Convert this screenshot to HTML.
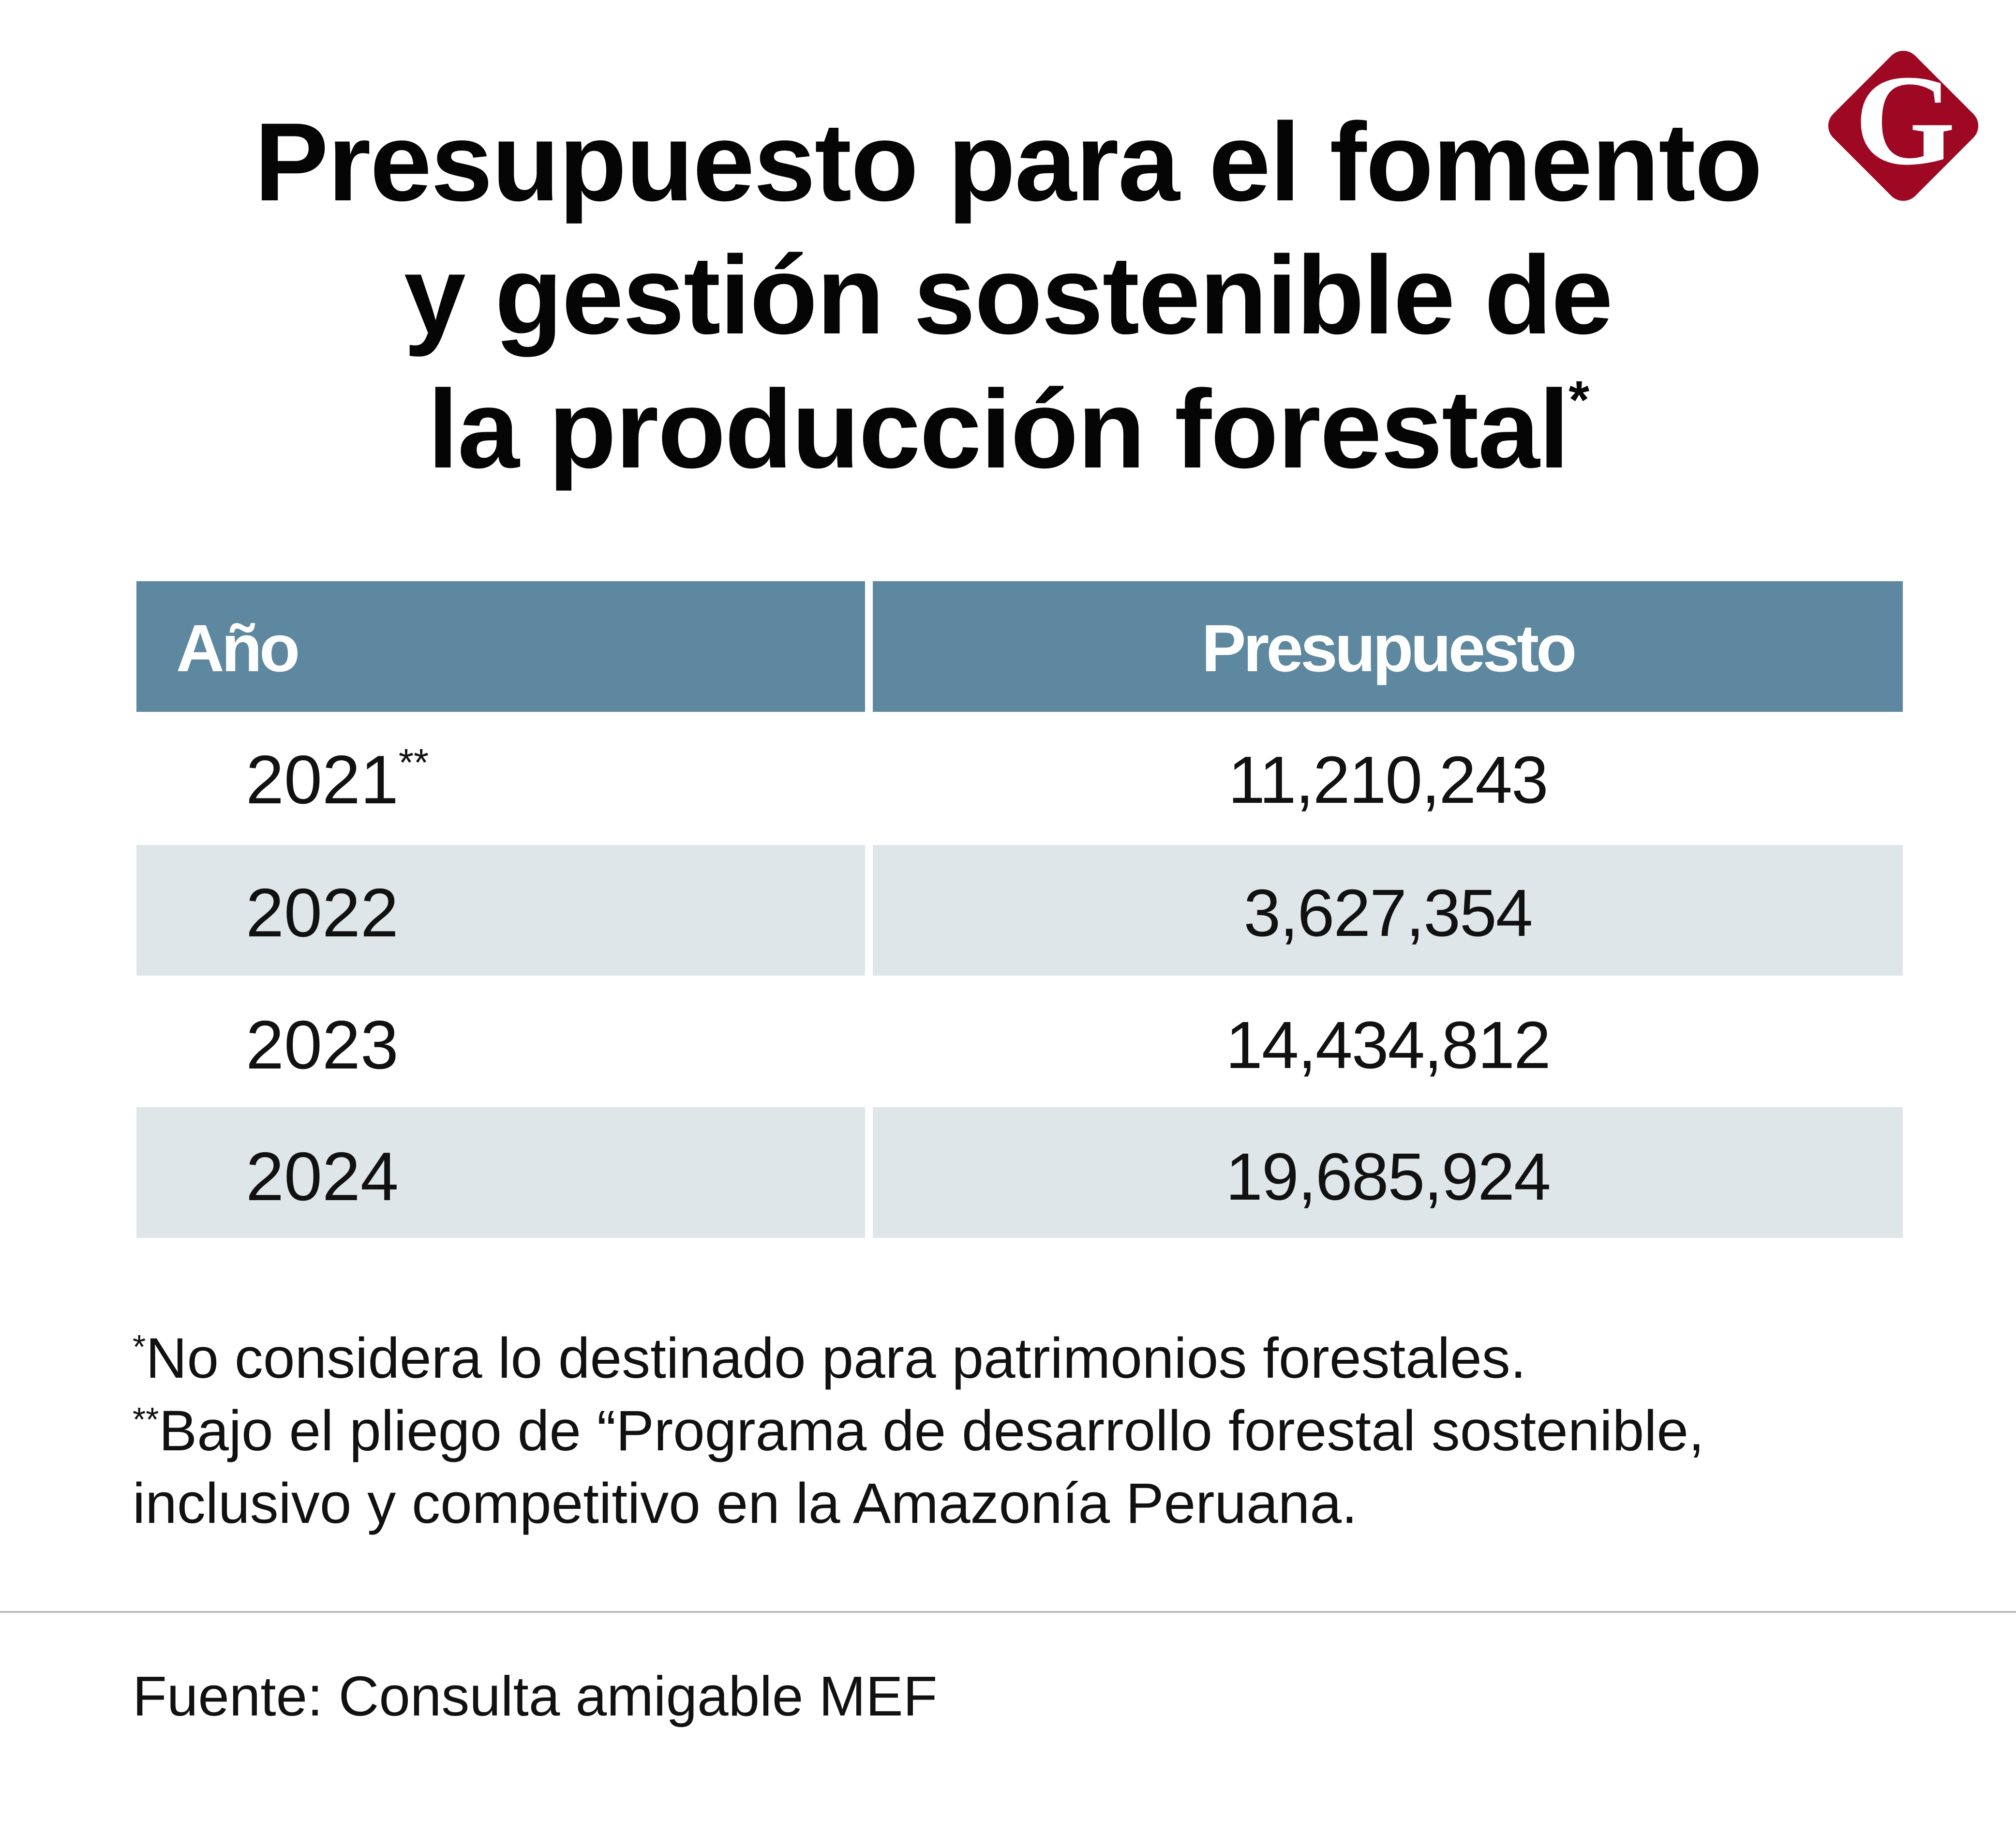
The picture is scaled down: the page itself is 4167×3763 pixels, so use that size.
<!DOCTYPE html>
<html><head><meta charset="utf-8"><style>
body{margin:0;width:4167px;height:3763px;background:#fff;position:relative;overflow:hidden;font-family:"Liberation Sans",sans-serif;color:#111}
.t{position:absolute;left:0;width:4167px;text-align:center;font-weight:bold;font-size:230px;letter-spacing:-2px;line-height:1;color:#050505}
.cell{position:absolute;box-sizing:border-box}
.hd{background:#5d889f;color:#fff;font-weight:bold;font-size:138px;letter-spacing:-6px}
.g{background:#dfe6e9}
.yr{position:absolute;left:508px;font-size:142px;}
.val{position:absolute;left:1804px;width:2129px;text-align:center;font-size:138px;letter-spacing:-2px;top:0}
.fn{position:absolute;left:274px;font-size:118px;line-height:1}
</style></head><body>
<div class="t" style="top:220px">Presupuesto para el fomento</div>
<div class="t" style="top:495px">y gestión sostenible de</div>
<div class="t" style="top:772px">la producción forestal<span style="font-size:110px;vertical-align:top">*</span></div>
<svg style="position:absolute;left:3742px;top:68px" width="384" height="384" viewBox="0 0 330 330">
<rect x="62" y="62" width="206" height="206" rx="30" fill="#9e0823" transform="rotate(45 165 165)"/>
<text x="168" y="232" text-anchor="middle" font-family="Liberation Serif" font-weight="bold" font-size="230" fill="#fff">G</text></svg>
<div class="cell hd" style="left:282px;top:1201px;width:1506px;height:270px"><span style="position:absolute;left:82px;top:60px">Año</span></div>
<div class="cell hd" style="left:1804px;top:1201px;width:2129px;height:270px;text-align:center;padding-top:60px">Presupuesto</div>
<div class="cell g" style="left:282px;top:1746px;width:1506px;height:270px"></div>
<div class="cell g" style="left:1804px;top:1746px;width:2129px;height:270px"></div>
<div class="cell g" style="left:282px;top:2288px;width:1506px;height:270px"></div>
<div class="cell g" style="left:1804px;top:2288px;width:2129px;height:270px"></div>
<div class="yr" style="top:1530px">2021<span style="font-size:80px;vertical-align:top">**</span></div>
<div class="val" style="top:1533px">11,210,243</div>
<div class="yr" style="top:1805px">2022</div>
<div class="val" style="top:1808px">3,627,354</div>
<div class="yr" style="top:2078px">2023</div>
<div class="val" style="top:2081px">14,434,812</div>
<div class="yr" style="top:2350px">2024</div>
<div class="val" style="top:2353px">19,685,924</div>
<div class="fn" style="top:2748px"><span style="font-size:70px;vertical-align:top">*</span>No considera lo destinado para patrimonios forestales.</div>
<div class="fn" style="top:2898px"><span style="font-size:70px;vertical-align:top">**</span>Bajo el pliego de “Programa de desarrollo forestal sostenible,</div>
<div class="fn" style="top:3048px">inclusivo y competitivo en la Amazonía Peruana.</div>
<div style="position:absolute;left:0;top:3329px;width:4167px;height:4px;background:#bbb"></div>
<div class="fn" style="top:3447px;font-size:116px">Fuente: Consulta amigable MEF</div>
</body></html>
